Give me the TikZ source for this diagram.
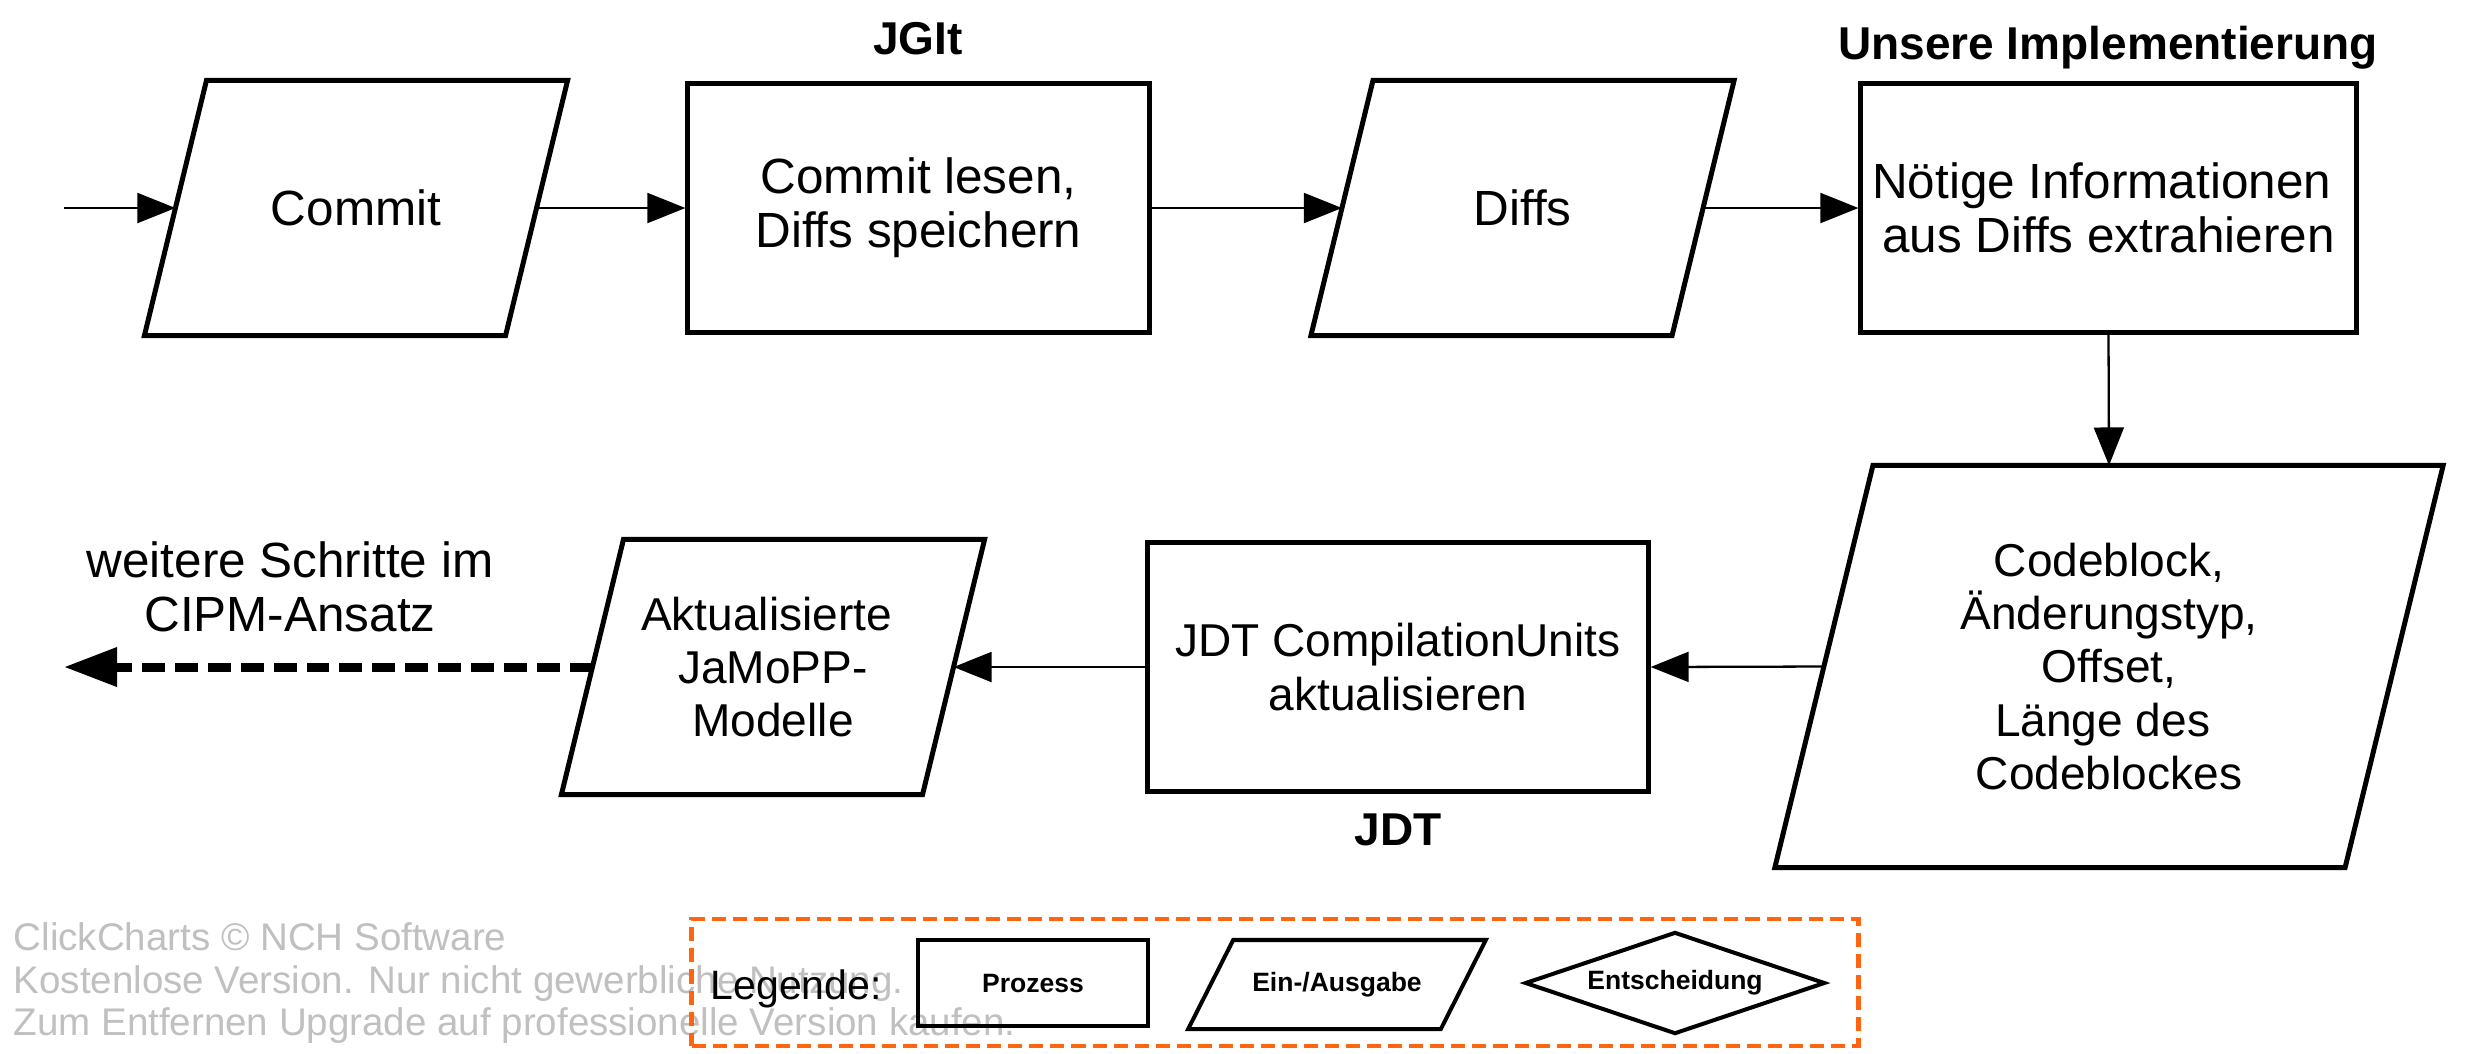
\documentclass[tikz,border=0pt]{standalone}
\usepackage{fontspec}
\setmainfont{Liberation Sans}
\usetikzlibrary{arrows.meta,shapes.geometric,calc}
\definecolor{wmgray}{RGB}{192,192,192}
\definecolor{legorange}{RGB}{255,100,16}
\newcommand\iopar[3][shapeline]{\draw[#1] ([xshift=#3]#2.north west) -- ([xshift=#3]#2.north east) -- ([xshift=-#3]#2.south east) -- ([xshift=-#3]#2.south west) -- cycle;}
\tikzset{
  bodytext/.style={font=\fontsize{14.06pt}{15.36pt}\selectfont, align=center},
  smalltext/.style={font=\fontsize{13.1pt}{15.2pt}\selectfont},
  procbox/.style={bodytext, draw, line width=1.42pt, minimum width=4.6cm, minimum height=2.48cm, inner sep=0pt, outer sep=0.7pt},
  iobox/.style={bodytext, minimum width=3.56cm, minimum height=2.5cm, inner sep=0pt, outer sep=0.7pt},
  shapeline/.style={line width=1.42pt, line join=miter},
  legline/.style={line width=1.14pt, line join=miter},
  conn/.style={line width=0.65pt, -{Triangle[length=10.8pt,width=8.5pt]}},
  dconn/.style={line width=2.56pt, dash pattern=on 6.5pt off 2.85pt, -{Triangle[length=14.8pt,width=11.4pt,line width=0pt]}},
  toplabel/.style={font=\fontsize{13.09pt}{15pt}\selectfont\bfseries, inner sep=0pt},
  wm/.style={font=\fontsize{10.95pt}{12.5pt}\selectfont, text=wmgray, anchor=base west, inner sep=0pt},
  legshape/.style={draw, line width=1.14pt, font=\fontsize{7.54pt}{9pt}\selectfont\bfseries, inner sep=0pt},
}
\begin{document}
\begin{tikzpicture}[x=0.01cm, y=-0.01cm]
\fill[white] (0,0) rectangle (2469,1053);
\useasboundingbox (0,0) rectangle (2469,1053);

% watermark
\node[wm] (wm1) at (13,950) {ClickCharts © NCH Software};
\node[wm] (wm2) at (13,993) {Kostenlose Version. Nur nicht gewerbliche Nutzung.};
\node[wm] (wm3) at (13,1035) {Zum Entfernen Upgrade auf professionelle Version kaufen.};

% main nodes
\node[iobox] (commit) at (356,208) {Commit};
\node[procbox, minimum width=4.61cm] (lesen) at (918.5,208) {Commit lesen,\\Diffs speichern};
\node[iobox] (diffs) at (1522.5,208) {Diffs};
\node[procbox, minimum width=4.95cm] (info) at (2108.5,208) {Nötige Informationen\kern0.278em\\aus Diffs extrahieren};
\node[iobox, smalltext, minimum width=5.65cm, minimum height=3.97cm] (cblock) at (2109,666.5) {Codeblock,\\Änderungstyp,\\Offset,\\Länge des\kern0.278em\\Codeblockes};
\node[procbox, smalltext, minimum width=5cm] (jdt) at (1398,667) {JDT CompilationUnits\\aktualisieren};
\node[iobox, smalltext] (akt) at (773,667) {Aktualisierte\kern0.278em\\JaMoPP-\\Modelle};

\iopar{commit}{0.31cm}
\iopar{diffs}{0.31cm}
\iopar{akt}{0.31cm}
\iopar{cblock}{0.49cm}

% labels
\node[toplabel, anchor=base] (jgit) at (918,54) {JGIt};
\node[toplabel, anchor=base] (ours) at (2108,59) {Unsere Implementierung};
\node[toplabel, anchor=base] (jdtlabel) at (1398,845) {JDT};
\node[bodytext] (further) at (290,587) {weitere Schritte im\\CIPM-Ansatz};

% connectors
\coordinate (start) at (64,208);
\coordinate (finish) at (65,667);
\draw[conn] (start) -- (commit.west);
\draw[conn] (commit.east) -- (lesen.west);
\draw[conn] (lesen.east) -- (diffs.west);
\draw[conn] (diffs.east) -- (info.west);
\draw[conn] (info.south) -- (cblock.north);
\draw[conn] (cblock.west) -- (jdt.east);
\draw[conn] (jdt.west) -- (akt.east);
\draw[dconn] (akt.west) -- (finish);

% legend
\node[draw=legorange, line width=1.28pt, dash pattern=on 4pt off 2pt, minimum width=11.66cm, minimum height=1.27cm, inner sep=0pt] (legend) at (1275,982.5) {};
\node[anchor=base west, font=\fontsize{11.67pt}{13pt}\selectfont, inner sep=0pt] (legtitle) at (710,999) {Legende:};
\node[legshape, minimum width=2.3cm, minimum height=0.86cm] (lproc) at (1033,983) {Prozess};
\node[legshape, draw=none, minimum width=2.485cm, minimum height=0.85cm] (lio) at (1337,984.5) {Ein-/Ausgabe};
\iopar[legline]{lio}{0.225cm}
\node[legshape, diamond, aspect=2.94, minimum width=3cm, minimum height=1.02cm] (ldec) at (1675,983) {Entscheidung};
\end{tikzpicture}
\end{document}
